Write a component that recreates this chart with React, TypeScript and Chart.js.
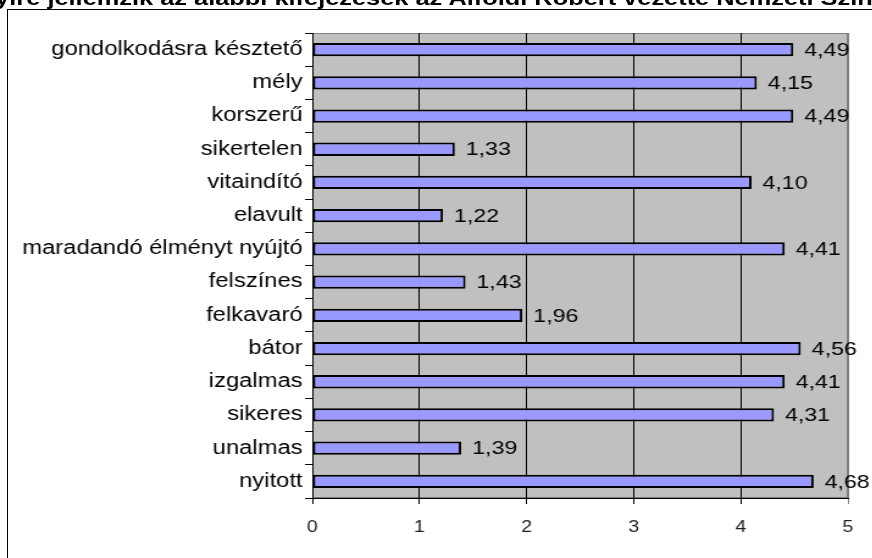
import React, { useEffect, useRef } from "react";
import { Chart, registerables } from "chart.js";

Chart.register(...registerables);

const categories = [
  "gondolkodásra késztető",
  "mély",
  "korszerű",
  "sikertelen",
  "vitaindító",
  "elavult",
  "maradandó élményt nyújtó",
  "felszínes",
  "felkavaró",
  "bátor",
  "izgalmas",
  "sikeres",
  "unalmas",
  "nyitott",
];
const values = [4.49, 4.15, 4.49, 1.33, 4.1, 1.22, 4.41, 1.43, 1.96, 4.56, 4.41, 4.31, 1.39, 4.68];
const xTicks = [0, 1, 2, 3, 4, 5];
const title =
  "Mennyire jellemzik az alábbi kifejezések az Alföldi Róbert vezette Nemzeti Színházat?";

const S = 1.22;
const W = 715;
const H = 558;
const FONT = "'Liberation Sans', Arial, sans-serif";

const bgPlugin = {
  id: "plotBg",
  beforeDraw(chart: any) {
    const { ctx, chartArea: a } = chart;
    ctx.save();
    ctx.fillStyle = "#C0C0C0";
    ctx.fillRect(a.left, a.top, a.right - a.left, a.bottom - a.top);
    ctx.strokeStyle = "#808080";
    ctx.lineWidth = 1;
    ctx.strokeRect(a.left + 0.5, a.top + 0.5, a.right - a.left - 1, a.bottom - a.top - 1);
    ctx.restore();
  },
};

const labelPlugin = {
  id: "valueLabels",
  afterDatasetsDraw(chart: any) {
    const { ctx } = chart;
    const meta = chart.getDatasetMeta(0);
    ctx.save();
    ctx.fillStyle = "#000";
    ctx.font = `19px ${FONT}`;
    ctx.textAlign = "left";
    ctx.textBaseline = "middle";
    meta.data.forEach((el: any, i: number) => {
      const txt = values[i].toFixed(2).replace(".", ",");
      ctx.fillText(txt, el.x + 9, el.y + 1);
    });
    ctx.restore();
  },
};

export default function App() {
  const ref = useRef<HTMLCanvasElement | null>(null);

  useEffect(() => {
    if (!ref.current) return;
    const chart = new Chart(ref.current, {
      type: "bar",
      data: {
        labels: categories,
        datasets: [
          {
            data: values,
            backgroundColor: "#9999FF",
            borderColor: "#000000",
            borderWidth: 2,
            borderSkipped: false,
            barPercentage: 0.4,
            categoryPercentage: 1,
          },
        ],
      },
      options: {
        indexAxis: "y",
        responsive: false,
        animation: false,
        devicePixelRatio: 1,
        layout: { padding: { top: 33, right: 20, left: 0, bottom: 0 } },
        plugins: {
          legend: { display: false },
          tooltip: { enabled: false },
          title: { display: false },
        },
        scales: {
          x: {
            type: "linear",
            min: 0,
            max: 5,
            afterBuildTicks: (scale: any) => {
              scale.ticks = xTicks.map((v) => ({ value: v }));
            },
            afterFit: (scale: any) => {
              scale.height = 60;
            },
            grid: {
              color: (c: any) => (c.tick && c.tick.value === 5 ? "#808080" : "#000000"),
              lineWidth: 1,
              tickLength: 6,
              drawOnChartArea: true,
            },
            border: { color: "#000000", width: 1 },
            ticks: {
              color: "#222222",
              font: { family: FONT, size: 16 },
              padding: 14,
            },
          },
          y: {
            type: "category",
            afterFit: (scale: any) => {
              scale.width = 256;
            },
            grid: {
              drawOnChartArea: false,
              tickLength: 6,
              color: "#000000",
              offset: true,
            },
            border: { color: "#000000", width: 1 },
            ticks: {
              color: "#000000",
              font: { family: FONT, size: 19.5 },
              padding: 2,
              autoSkip: false,
            },
          },
        },
      },
      plugins: [bgPlugin, labelPlugin],
    } as any);
    return () => chart.destroy();
  }, []);

  return (
    <div
      style={{
        position: "fixed",
        left: 0,
        top: 0,
        width: 872,
        height: 558,
        overflow: "hidden",
        background: "#ffffff",
      }}
    >
      <div
        style={{
          position: "absolute",
          left: 7,
          top: 9,
          width: 900,
          height: 600,
          border: "1px solid #000",
        }}
      />
      <div
        style={{
          position: "absolute",
          left: 0,
          top: 0,
          width: W,
          height: H,
          transform: `scaleX(${S})`,
          transformOrigin: "0 0",
        }}
      >
        <div
          style={{
            position: "absolute",
            left: -296,
            width: W + 600,
            top: -13,
            textAlign: "center",
            whiteSpace: "nowrap",
            fontFamily: FONT,
            fontWeight: "bold",
            fontSize: 20.8,
            lineHeight: "21px",
            color: "#000",
          }}
        >
          {title}
        </div>
        <canvas
          ref={ref}
          width={W}
          height={H}
          style={{ position: "absolute", left: 0, top: 0, width: W, height: H }}
        />
      </div>
    </div>
  );
}
